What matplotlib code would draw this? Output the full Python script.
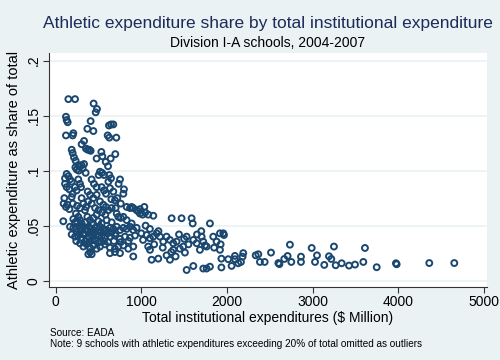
import numpy as np
import matplotlib
matplotlib.use("Agg")
import matplotlib.pyplot as plt

plt.rcParams['font.family'] = ['Liberation Sans', 'DejaVu Sans']

# values (total expenditure $M, athletic share)
upper_x = [148, 226, 443, 467, 482, 120, 128, 140, 408, 440, 370, 120, 198, 206, 622, 646, 673,
           607, 626, 708, 331, 303, 354, 374, 393, 408, 696, 642, 533, 545, 478, 187, 198, 214,
           233, 584, 611, 264, 284, 303, 331, 315, 517, 541, 564, 502, 128, 148, 109, 167, 187,
           626, 646, 615, 751, 735, 264, 284, 226, 245, 296, 420, 447, 478, 109, 128, 159, 198,
           187, 374, 401, 440, 478, 537, 564, 587, 634, 673, 797, 790, 720, 692, 101, 93, 120,
           136, 303, 323, 354, 284, 342, 517, 556, 587, 615, 654, 829, 868, 887, 906, 945, 965,
           984, 1035, 245, 270, 230, 350, 160, 200, 250, 380, 420, 460, 500, 540, 580, 700, 760,
           650]
upper_y = [.165, .165, .161, .153, .156, .149, .146, .144, .145, .136, .138, .132, .132, .134,
           .141, .142, .142, .132, .130, .130, .127, .124, .120, .119, .119, .118, .115, .111,
           .117, .113, .111, .119, .116, .112, .109, .108, .104, .105, .104, .105, .106, .102,
           .099, .098, .096, .096, .097, .095, .093, .092, .090, .096, .093, .090, .092, .088,
           .092, .088, .085, .082, .085, .092, .088, .085, .088, .085, .083, .079, .076, .081,
           .078, .075, .078, .085, .082, .079, .084, .081, .083, .079, .075, .073, .075, .070,
           .067, .069, .075, .070, .067, .066, .064, .072, .069, .067, .064, .066, .067, .066,
           .067, .066, .064, .063, .065, .067, .101, .100, .103, .098, .065, .070, .068, .072,
           .070, .066, .064, .062, .060, .066, .070, .074]

core_x = [237, 264, 284, 245, 303, 370, 401, 440, 478, 712, 731, 759, 790, 984, 1015, 1046, 1081,
          1140, 89,
          167, 206, 245, 284, 323, 362, 401, 440, 478, 517, 556, 595, 634, 673, 712, 751, 790,
          829, 868, 906, 945,
          187, 226, 264, 303, 342, 381, 420, 459, 498, 537, 576, 634, 692, 751, 809, 868, 926,
          284, 323, 362, 401, 440, 478, 517, 576, 634, 692, 731, 790, 848, 906,
          381, 401, 420, 634, 692, 751, 906,
          206, 226, 342, 420, 498, 537, 595, 654, 829, 887,
          250, 290, 330, 370, 410, 450, 490, 530, 570, 610, 650, 700,
          240, 300, 350, 390, 430, 470, 510, 560, 610, 680, 760, 850]
core_y = [.061, .058, .055, .054, .052, .058, .055, .057, .060, .061, .058, .057, .058, .061, .060,
          .062, .060, .059, .054,
          .049, .048, .047, .048, .049, .047, .048, .046, .048, .049, .047, .046, .048, .047,
          .049, .046, .048, .047, .049, .046, .048,
          .042, .040, .041, .039, .042, .040, .041, .038, .041, .040, .039, .040, .041, .038,
          .040, .039, .041,
          .034, .031, .033, .030, .032, .029, .031, .033, .030, .029, .031, .032, .029, .031,
          .024, .026, .024, .025, .026, .025, .022,
          .056, .053, .053, .052, .054, .052, .055, .053, .055, .052,
          .044, .045, .043, .045, .044, .043, .045, .044, .045, .043, .044, .043,
          .036, .037, .036, .035, .037, .036, .035, .036, .035, .036, .035, .036]

band_x = [1062, 1101, 1140, 1179, 1218, 1256, 1295, 1334, 1354, 1373, 1412, 1470, 1490, 1529,
          1587, 1607, 1646, 1684, 1704, 1723, 1743, 1762, 1801, 1840, 1879, 1918, 1957, 1965,
          1101, 1120, 1198, 1295, 1334, 1373, 1509, 1529, 1607, 1723, 1762, 1801,
          1150, 1250, 1350, 1450, 1550, 1650, 1850, 1600, 1700, 1050, 1100, 1200, 1000, 1020,
          1080, 1400, 1440, 1500]
band_y = [.0415, .0385, .040, .043, .040, .0355, .040, .037, .0567, .034, .0355, .0567, .031,
          .040, .0567, .037, .034, .028, .040, .0355, .032, .031, .052, .040, .0355, .028, .043,
          .0415,
          .028, .019, .020, .023, .019, .028, .0255, .0097, .0133, .011, .011, .0127,
          .033, .030, .026, .029, .033, .042, .030, .052, .045, .050, .047, .045, .043, .037,
          .031, .022, .042, .038]

tail_x = [1918, 1926, 1935, 1935, 2015, 2054, 2093, 2093, 2163, 2190, 2335, 2366, 2385, 2440,
          2514, 2600, 2612, 2669, 2708, 2735, 2751, 2864, 2864, 2989, 3028, 3051, 3136, 3191,
          3218, 3249, 3269, 3339, 3425, 3495, 3592, 3611, 3748, 3973, 3981, 4362, 4654, 2132,
          2182]
tail_y = [.043, .033, .020, .012, .0195, .0134, .0225, .0195, .017, .025, .023, .024, .017, .017,
          .0255, .016, .015, .0197, .0224, .0327, .017, .0218, .017, .0297, .017, .023, .0143,
          .0222, .0197, .031, .014, .0158, .0137, .0146, .017, .0297, .0122, .0158, .0149, .016,
          .016, .0158, .0218]

x_ticks = [0, 1000, 2000, 3000, 4000, 5000]
y_ticks = [0, 0.05, 0.1, 0.15, 0.2]
y_tick_labels = ['0', '.05', '.1', '.15', '.2']

exp_all = upper_x + core_x + band_x + tail_x
share_all = upper_y + core_y + band_y + tail_y

bg = '#EAF2F3'
navy = '#1A476F'

fig = plt.figure(figsize=(5, 3.6), dpi=100, facecolor=bg)
ax = fig.add_axes([0.098, 0.203, 0.876, 0.65])
ax.set_facecolor('white')

ax.scatter(exp_all, share_all, s=18, facecolors='none', edgecolors=navy, linewidths=1.4, zorder=3)

ax.set_xlim(-78, 5036)
ax.set_ylim(-0.0057, 0.207)
ax.set_xticks(x_ticks)
ax.set_yticks(y_ticks)
ax.set_yticklabels(y_tick_labels, rotation=90, va='center')
ax.tick_params(axis='both', labelsize=10, length=4, color='#333333', direction='out')
ax.tick_params(axis='x', pad=2)
ax.tick_params(axis='y', pad=2)
ax.yaxis.grid(True, color=bg, linewidth=1.2, zorder=0)
ax.set_axisbelow(True)
for side in ['top', 'right']:
    ax.spines[side].set_visible(False)
for side in ['left', 'bottom']:
    ax.spines[side].set_color('#333333')
    ax.spines[side].set_linewidth(0.8)

ax.set_xlabel('Total institutional expenditures ($ Million)', fontsize=10, labelpad=1)
ax.set_ylabel('Athletic expenditure as share of total', fontsize=10.5, labelpad=4)

fig.text(0.535, 0.935, 'Athletic expenditure share by total institutional expenditure',
         ha='center', va='center', fontsize=12.5, color='#1C2B5A')
fig.text(0.535, 0.88, 'Division I-A schools, 2004-2007', ha='center', va='center', fontsize=10)
fig.text(0.1, 0.075, 'Source: EADA', fontsize=7.2, va='center')
fig.text(0.1, 0.045, 'Note: 9 schools with athletic expenditures exceeding 20% of total omitted as outliers',
         fontsize=7.2, va='center')

fig.savefig('out.png', dpi=100, facecolor=bg)
